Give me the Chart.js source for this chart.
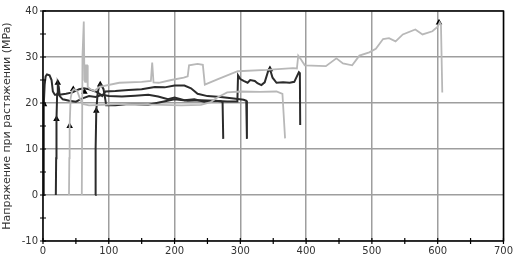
<!DOCTYPE html>
<html>
<head>
<meta charset="utf-8">
<script src="https://cdn.jsdelivr.net/npm/chart.js@4.4.0/dist/chart.umd.min.js"></script>
<style>
  body { margin: 0; background: #fff; }
  #wrap { width: 517px; height: 258px; position: relative; }
</style>
</head>
<body>
<div id="wrap"><canvas id="stressChart"></canvas></div>
<script>
// specimen curves, [strain, stress]
var specA = [[0,0],[0.8,12],[1.5,19.5],[2.5,24],[4,25.8],[6,26.2],[10,26],[13,25],[15,22.5],[18,21.8],[25,21.8],[35,22],[45,22.3],[55,23],[62,23.2],[70,23],[80,22.5],[86,22],[90,21.5],[95,22.5],[110,22.6],[130,22.8],[150,23],[170,23.5],[185,23.4],[200,23.8],[215,23.8],[225,23.2],[235,22],[250,21.5],[270,21.3],[290,21],[305,20.7],[309,20.5],[310,12.2]];
var specB = [[19.5,0],[20,8],[20.5,16.5],[21.5,22],[22.5,24.2],[24,23.5],[25.5,21.5],[30,20.8],[40,20.5],[50,20.3],[60,21],[70,21.5],[80,21.3],[90,21.8],[100,21.5],[120,21.4],[140,21.6],[160,21.8],[175,21.4],[190,20.8],[200,21.2],[215,20.6],[230,20.8],[245,20.3],[260,20.5],[270,20.4],[273,20.2],[274,12.2]];
var specC = [[39.5,0],[40,8],[40.5,15],[42,21],[44,22.5],[47,23],[52,22.6],[56,21],[60,19.8],[70,19.5],[90,19.6],[120,19.8],[150,19.7],[180,19.6],[210,19.5],[240,19.6],[255,20.2],[265,21.2],[280,22.3],[300,22.5],[330,22.4],[355,22.5],[364,22],[368,12.3]];
var specD = [[59,0],[60,30],[62,37.7],[63,25],[64,24.6],[65,28.2],[67,28.2],[68,23.5],[72,23],[78,22.6],[86,23.5],[116,24.4],[150,24.6],[164,24.8],[166,28.8],[168,24.5],[176,24.4],[195,25],[214,25.5],[220,25.8],[222,28.2],[235,28.5],[243,28.3],[246,24],[266,25.2],[296,26.9],[340,27.2],[380,27.6],[386,27.5],[388,30.3],[392,29.5],[398,28.2],[430,28],[446,29.7],[456,28.6],[470,28.2],[481,30.3],[496,31],[506,31.8],[517,33.9],[526,34.1],[536,33.4],[547,34.9],[566,36],[577,34.9],[592,35.6],[600,36.6],[603,37.5],[605,37],[607,22.3]];
var specE = [[79.5,0],[80,10],[81,18.3],[83,22],[85,23.5],[87,24],[89,23.8],[92,23],[95,20.5],[96,19.5],[110,19.5],[130,19.8],[160,19.6],[180,20.2],[200,20.8],[220,20.5],[240,20.6],[260,20.5],[280,20.3],[295.5,20.3],[296.5,26],[300,25.2],[305,24.8],[311,24.4],[315,25],[322,24.8],[326,24.3],[332,23.9],[337,24.5],[342,26.8],[345,27.4],[349,25.5],[355,24.4],[365,24.5],[375,24.4],[382,24.6],[389,26.7],[390.5,26.5],[391,15.2]];

// triangle markers
var markerX = [1.5, 20.5, 22.5, 40.5, 46, 63, 81, 87, 345, 602];
var markerY = [19.7, 16.5, 24.4, 15, 23, 22.4, 18.3, 24, 27.3, 37.5];

var darkColor = '#2b2b2b';
var greyColor = '#b8b8b8';

function toPoints(arr) {
  return arr.map(function(p) { return { x: p[0], y: p[1] }; });
}

function curve(arr, color, width) {
  return {
    type: 'line',
    data: toPoints(arr),
    borderColor: color,
    borderWidth: width,
    pointRadius: 0,
    tension: 0,
    fill: false
  };
}

// frame + small crossing ticks on the axes
var frameTicks = {
  id: 'frameTicks',
  afterDraw: function(chart) {
    var ctx = chart.ctx;
    var a = chart.chartArea;
    var xs = chart.scales.x, ys = chart.scales.y;
    ctx.save();
    ctx.strokeStyle = '#000';
    ctx.lineWidth = 1.5;
    ctx.strokeRect(a.left, a.top, a.right - a.left, a.bottom - a.top);
    ctx.lineWidth = 1.2;
    ctx.beginPath();
    for (var v = 0; v <= 700; v += 50) {
      var px = xs.getPixelForValue(v);
      ctx.moveTo(px, a.bottom - 3);
      ctx.lineTo(px, a.bottom + 3);
    }
    for (var w = -10; w <= 40; w += 5) {
      var py = ys.getPixelForValue(w);
      ctx.moveTo(a.left - 3, py);
      ctx.lineTo(a.left + 3, py);
    }
    ctx.stroke();
    ctx.restore();
  }
};

Chart.defaults.font.family = 'DejaVu Sans';
Chart.defaults.font.size = 10;
Chart.defaults.color = '#333';

var ctx = document.getElementById('stressChart').getContext('2d');
var myChart = new Chart(ctx, {
  type: 'scatter',
  data: {
    datasets: [
      curve(specD, greyColor, 1.8),
      curve(specC, greyColor, 1.8),
      curve(specA, darkColor, 2),
      curve(specB, darkColor, 2),
      curve(specE, darkColor, 2),
      {
        type: 'scatter',
        data: markerX.map(function(x, i) { return { x: x, y: markerY[i] }; }),
        pointStyle: 'triangle',
        pointRadius: 3.8,
        backgroundColor: '#000',
        borderColor: '#000',
        borderWidth: 0
      }
    ]
  },
  options: {
    animation: false,
    responsive: true,
    maintainAspectRatio: false,
    devicePixelRatio: 1,
    layout: { padding: { top: 4, right: 8, left: 0, bottom: 0 } },
    plugins: { legend: { display: false }, tooltip: { enabled: false } },
    scales: {
      x: {
        type: 'linear',
        min: 0, max: 700,
        ticks: { stepSize: 100, padding: 4, maxRotation: 0 },
        grid: { color: '#9e9e9e', lineWidth: 1.5, drawTicks: false },
        border: { display: false },
        afterFit: function(scale) { scale.height = 17; }
      },
      y: {
        type: 'linear',
        min: -10, max: 40,
        ticks: { stepSize: 10, padding: 5 },
        grid: { color: '#9e9e9e', lineWidth: 1.5, drawTicks: false },
        border: { display: false },
        title: {
          display: true,
          text: 'Напряжение при растяжении (MPa)',
          font: { size: 11 },
          padding: { top: 1, bottom: 0 }
        },
        afterFit: function(scale) { scale.width = 43; }
      }
    }
  },
  plugins: [frameTicks]
});
</script>
</body>
</html>
